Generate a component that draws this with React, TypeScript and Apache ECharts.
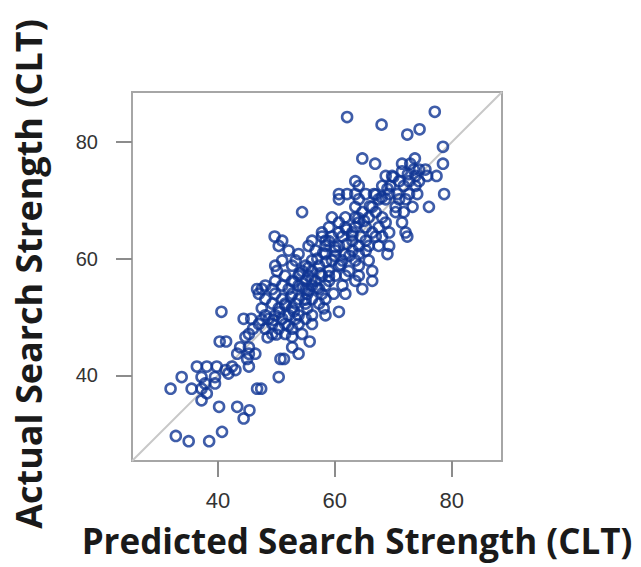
import React, { useEffect, useRef } from "react";
import * as echarts from "echarts";

// Predicted (x) and actual (y) search strength values
const predicted: number[] = [
  77.1, 62.1, 68, 74.5, 72.4, 78.5,
  64.7, 73.7,
  66.9, 71.5, 72.9, 78.5,
  73.5, 74.4, 75.5,
  68.7, 69.8, 73.8, 77.4, 75.8,
  63.5, 71, 72.7, 74.4,
  64.1, 68.1, 69.5, 71.8, 73.8,
  60.7, 62.1, 63.5, 65.3, 66.7, 69.3, 70.7, 72.7, 74.1, 78.7,
  60.7, 64.1, 67.5, 68.7, 71, 72.1,
  63.5, 66.4, 70.4, 73.3, 76.1,
  54.4, 64.7, 67, 70.4, 71.8,
  59.5, 61.8, 63.5, 65.8, 68.1,
  60.7, 64.1, 68.7, 71.5,
  59, 61.8, 63.5, 65.3, 67.5,
  57.8, 60.7, 63, 66.4, 69.3, 72.1,
  49.7, 57.8, 59.5, 61.3, 64.4, 67, 68.1, 72.4,
  51, 56.1, 58.4, 63, 65.3,
  50.4, 55.5, 58.4, 60.7, 64.1, 65.8, 67.5, 69.3,
  52.1, 56.7, 60.1, 63, 65.3,
  53.8, 58.4, 61.8, 64.1, 69,
  51, 53.3, 56.1, 59.5, 61.3, 63.5, 65.8,
  49.8, 52.7, 55, 57.3, 60.7, 64.1,
  50.1, 54.4, 56.1, 59, 62.4, 66.4,
  51.5, 53.8, 55.5, 57.8, 60.1, 61.8, 64.1,
  49.8, 52.7, 55, 56.7, 59, 63.5, 66.4,
  48.1, 51, 53.8, 56.1, 58.4, 61.3,
  46.7, 47.5, 49.3, 52.1, 55, 57.3, 64.7,
  47, 49.8, 52.7, 55.3, 57.8, 59.8, 61.8,
  48.1, 51, 53.8, 56.1, 58.4,
  49.3, 51.5, 53.3, 55, 57.3,
  47.5, 50.4, 52.7, 55.3, 58.1,
  40.6, 60.7,
  48.1, 49.8, 52.1, 53.8, 56.1, 58.4,
  44.4, 45.7, 48.7, 51, 53.3, 55,
  47, 49.3, 51.5, 53.8, 56.1,
  48.1, 50.4, 52.7,
  45.3, 49.3, 51.5, 54.4,
  44.7, 52.7,
  40.3, 41.4, 55.7,
  43.8, 45.3, 52.7,
  43.3, 45.3, 46.4, 53.8,
  50.7, 51.3, 45,
  36.4, 38.1, 39.8, 42.4, 45.3,
  41.3, 43,
  33.8, 37.2, 39.5, 50.4, 41.8,
  37.8, 39.5,
  31.9, 35.5, 37.2, 46.7, 47.4,
  38.1,
  37.2,
  40.2, 43.3,
  45.4,
  44.4,
  40.7,
  32.8,
  35, 38.5,
  // dense core
  53, 54, 55.5, 57, 58, 56, 54.5, 52.5, 51.5, 50.5, 49.5, 53, 55, 57, 59,
  61, 62.5, 60, 58.5, 55.5, 52, 50, 48.5, 46, 47.5, 59, 62, 64, 66, 67,
  69, 65, 63, 60, 57.5, 62, 70, 71.5, 72.5, 68,
];

const actual: number[] = [
  85.2, 84.3, 83, 82.2, 81.3, 79.2,
  77.2, 77.2,
  76.3, 76.3, 76.3, 76.3,
  75.3, 75.3, 75.3,
  74.2, 74.2, 74.2, 74.2, 74.2,
  73.3, 73.3, 73.3, 73.3,
  72.5, 72.5, 72.5, 72.5, 72.5,
  71.1, 71.1, 71.1, 71.1, 71.1, 71.1, 71.1, 71.1, 71.1, 71.1,
  70.2, 70.2, 70.2, 70.2, 70.2, 70.2,
  68.9, 68.9, 68.9, 68.9, 68.9,
  68, 68, 68, 68, 68,
  67.1, 67.1, 67.1, 67.1, 67.1,
  66.2, 66.2, 66.2, 66.2,
  65.4, 65.4, 65.4, 65.4, 65.4,
  64.5, 64.5, 64.5, 64.5, 64.5, 64.5,
  63.8, 63.8, 63.8, 63.8, 63.8, 63.8, 63.8, 63.8,
  63.1, 63.1, 63.1, 63.1, 63.1,
  62.2, 62.2, 62.2, 62.2, 62.2, 62.2, 62.2, 62.2,
  61.4, 61.4, 61.4, 61.4, 61.4,
  60.8, 60.8, 60.8, 60.8, 60.8,
  59.7, 59.7, 59.7, 59.7, 59.7, 59.7, 59.7,
  58.8, 58.8, 58.8, 58.8, 58.8, 58.8,
  57.9, 57.9, 57.9, 57.9, 57.9, 57.9,
  57.1, 57.1, 57.1, 57.1, 57.1, 57.1, 57.1,
  56.2, 56.2, 56.2, 56.2, 56.2, 56.2, 56.2,
  55.4, 55.4, 55.4, 55.4, 55.4, 55.4,
  54.8, 54.8, 54.8, 54.8, 54.8, 54.8, 54.8,
  54, 54, 54, 54, 54, 54, 54,
  53.1, 53.1, 53.1, 53.1, 53.1,
  52.3, 52.3, 52.3, 52.3, 52.3,
  51.5, 51.5, 51.5, 51.5, 51.5,
  50.9, 50.9,
  50.3, 50.3, 50.3, 50.3, 50.3, 50.3,
  49.7, 49.7, 49.7, 49.7, 49.7, 49.7,
  48.8, 48.8, 48.8, 48.8, 48.8,
  48, 48, 48,
  47.1, 47.1, 47.1, 47.1,
  46.6, 46.6,
  45.8, 45.8, 45.8,
  44.8, 44.8, 44.8,
  43.7, 43.7, 43.7, 43.7,
  42.8, 42.8, 42.8,
  41.5, 41.5, 41.5, 41.5, 41.5,
  40.9, 40.9,
  39.7, 39.7, 39.7, 39.7, 40.3,
  38.6, 38.6,
  37.7, 37.7, 37.7, 37.7, 37.7,
  36.9,
  35.7,
  34.6, 34.6,
  34,
  32.6,
  30.3,
  29.6,
  28.7, 28.7,
  // dense core
  56, 57.5, 58.5, 60, 61, 56.5, 55, 53.5, 52, 50.8, 49.5, 51, 53, 55, 57,
  59, 60.5, 62, 59.5, 54.5, 48.5, 47, 46.5, 48, 49.5, 63, 65, 67, 69, 71,
  72, 66.5, 64, 60.5, 57.5, 62.5, 74, 75, 74.5, 70.5,
];

const tickValues: number[] = [40, 60, 80];
const axisMin = 25.3;
const axisMax = 88.6;
const xTitle = "Predicted Search Strength (CLT)";
const yTitle = "Actual Search Strength (CLT)";

export default function App() {
  const ref = useRef<HTMLDivElement>(null);
  useEffect(() => {
    if (!ref.current) return;
    const chart = echarts.init(ref.current, undefined, { renderer: "svg" });
    const points = predicted.map((p, i) => [p, actual[i]]);
    chart.setOption({
      animation: false,
      grid: {
        left: 132,
        right: 139,
        top: 92,
        bottom: 106,
        show: true,
        borderColor: "#a6a6a6",
        borderWidth: 2,
      },
      xAxis: {
        type: "value",
        min: axisMin,
        max: axisMax,
        splitLine: { show: false },
        axisLine: { show: true, onZero: false, lineStyle: { color: "#a6a6a6", width: 2 } },
        axisTick: {
          show: true,
          customValues: tickValues,
          length: 16,
          lineStyle: { color: "#8c8c8c", width: 2 },
        },
        axisLabel: {
          customValues: tickValues,
          margin: 28,
          fontSize: 22,
          color: "#333333",
          fontFamily: "Liberation Sans",
        },
      },
      yAxis: {
        type: "value",
        min: axisMin,
        max: axisMax,
        splitLine: { show: false },
        axisLine: { show: true, onZero: false, lineStyle: { color: "#a6a6a6", width: 2 } },
        axisTick: {
          show: true,
          customValues: tickValues,
          length: 16,
          lineStyle: { color: "#8c8c8c", width: 2 },
        },
        axisLabel: {
          customValues: tickValues,
          margin: 34,
          fontSize: 20,
          color: "#333333",
          fontFamily: "Liberation Sans",
        },
      },
      graphic: [
        {
          type: "text",
          x: 357,
          y: 540,
          style: {
            text: xTitle,
            textAlign: "center",
            textVerticalAlign: "middle",
            fontSize: 35,
            fontWeight: "bold",
            fontFamily: "Open Sans",
            fill: "#1a1a1a",
          },
        },
        {
          type: "text",
          x: 28,
          y: 274,
          rotation: Math.PI / 2,
          style: {
            text: yTitle,
            textAlign: "center",
            textVerticalAlign: "middle",
            fontSize: 36,
            fontWeight: "bold",
            fontFamily: "Open Sans",
            fill: "#1a1a1a",
          },
        },
      ],
      series: [
        {
          type: "line",
          data: [
            [axisMin, axisMin],
            [axisMax, axisMax],
          ],
          symbol: "none",
          silent: true,
          lineStyle: { color: "#c8c8c8", width: 2 },
          z: 1,
        },
        {
          type: "scatter",
          data: points,
          symbol: "circle",
          symbolSize: 10,
          itemStyle: {
            color: "rgba(255,255,255,0)",
            borderColor: "#0f3593",
            borderWidth: 2.6,
          },
          z: 2,
        },
      ],
    });
    return () => chart.dispose();
  }, []);
  return <div ref={ref} style={{ width: 641, height: 567, position: "absolute", left: 0, top: 0 }} />;
}
